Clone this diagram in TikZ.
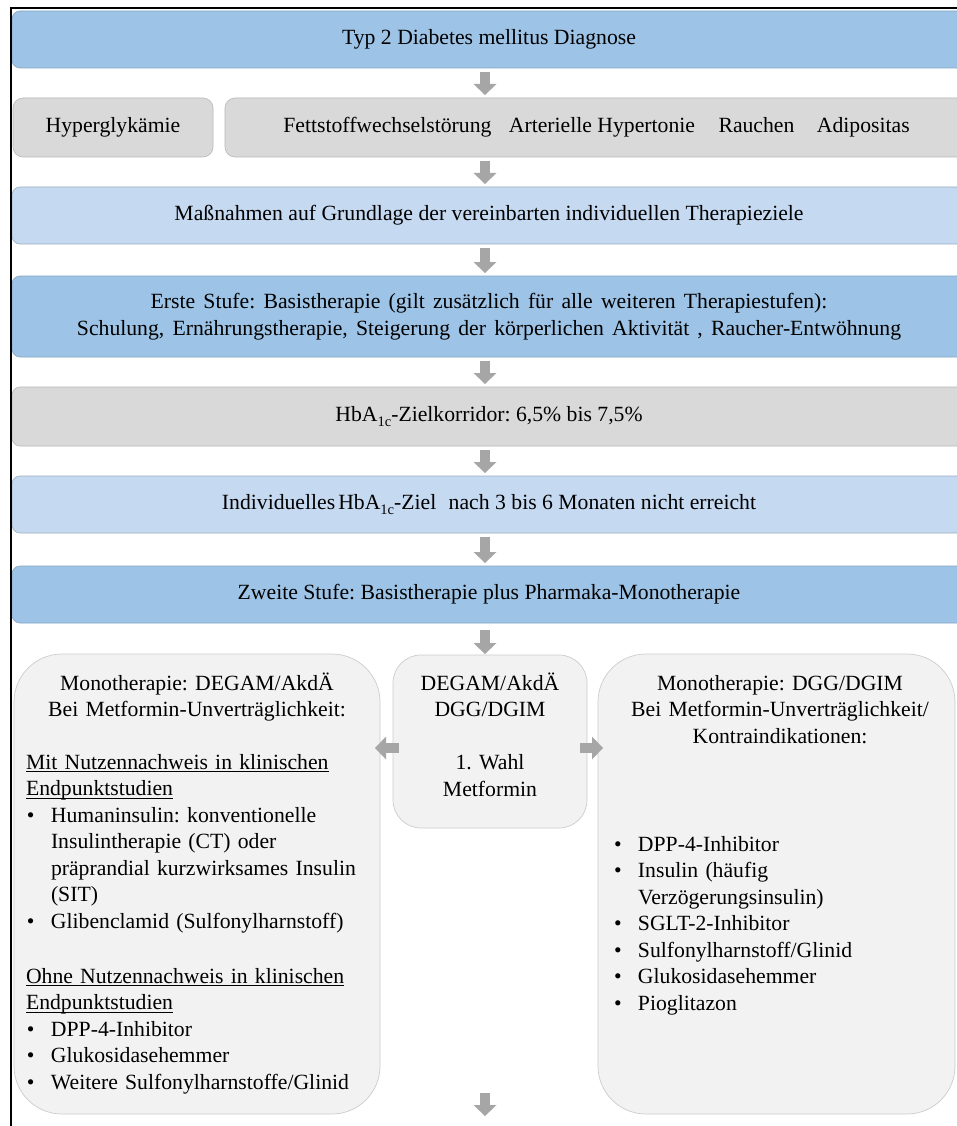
\documentclass[tikz,border=0pt]{standalone}
\usepackage{fontspec}
\setmainfont{Liberation Serif}
\newfontfamily\tnr{Liberation Serif}
\usetikzlibrary{arrows.meta}
\definecolor{dblue}{HTML}{9DC3E6}
\definecolor{lblue}{HTML}{C5D9F1}
\definecolor{mgray}{HTML}{D9D9D9}
\definecolor{lgray}{HTML}{F2F2F2}
\definecolor{agray}{HTML}{A6A6A6}
\newcommand{\fs}{\tnr\fontsize{21.7}{26.5}\selectfont\frenchspacing}
\newlength{\wsp}
\setlength{\wsp}{8.2pt}
\newcommand{\fswide}{\fs\spaceskip=\wsp}
\newcommand{\hbsub}[1]{\raisebox{-4.5pt}{\fontsize{14.5}{14}\selectfont #1}}
\newlength{\ulw}
\newcommand{\ulin}[1]{\settowidth{\ulw}{#1}\rlap{\rule[-3.2pt]{\ulw}{0.9pt}}#1}
\newcommand{\bitmhead}{\hangindent=25pt\hangafter=1\noindent\makebox[25pt][l]{\hspace{1pt}\textbullet}}
\newcommand{\bitm}{\par\bitmhead}
\tikzset{
  wbox/.style={rectangle, rounded corners=8pt, line width=0.6pt, outer sep=0pt, inner sep=0pt,
    font=\fs, align=center, text height=15pt, text depth=5pt, minimum width=954pt, minimum height=57pt},
  bluebox/.style={wbox, fill=dblue, draw=dblue!85!black},
  lightbox/.style={wbox, fill=lblue, draw=lblue!80!black},
  graybox/.style={wbox, fill=mgray, draw=mgray!85!black},
  bigbox/.style={rectangle, fill=lgray, draw=black!20, line width=0.7pt, rounded corners=48pt,
    outer sep=0pt, inner sep=0pt},
  txt/.style={font=\fs, inner sep=0pt, outer sep=0pt},
  blk/.style={draw=agray, line width=9.5pt, -{Triangle[width=23pt,length=11pt,line width=0pt]},
    shorten <=4pt, shorten >=3pt},
  blkh/.style={blk, shorten <=0pt, shorten >=0pt}
}
\begin{document}
\begin{tikzpicture}[x=1pt,y=-1pt]
\useasboundingbox (0,0) rectangle (957,1126);
\clip (0,0) rectangle (957,1126);
\fill[white] (0,0) rectangle (957,1126);

% rows
\node[bluebox] (n1) at (489,39.5) {Typ 2 Diabetes mellitus Diagnose};
\node[graybox, rounded corners=10pt, minimum width=200pt, minimum height=59pt] (hyp) at (113,127.5) {Hyperglykämie};
\node[graybox, rounded corners=10pt, minimum width=743pt, minimum height=59pt] (fett) at (596.5,127.5)
  {Fettstoffwechselstörung\hspace{12pt} Arterielle Hypertonie\hspace{18pt} Rauchen\hspace{17pt} Adipositas};
\node[lightbox] (n3) at (489,215.5) {Maßnahmen auf Grundlage der vereinbarten individuellen Therapieziele};
\node[bluebox, minimum height=81pt, text height=, text depth=, font=\fswide] (n4) at (489,316.5)
  {Erste Stufe: Basistherapie (gilt zusätzlich für alle weiteren Therapiestufen):\\
   Schulung, Ernährungstherapie, Steigerung der körperlichen Aktivität , Raucher-Entwöhnung};
\node[graybox, minimum height=59pt] (n5) at (489,416.5) {HbA\hbsub{1c}-Zielkorridor: 6,5\% bis 7,5\%};
\node[lightbox] (n6) at (489,504.5) {Individuelles\hspace{3pt}HbA\hbsub{1c}-Ziel\hspace{7pt} nach 3 bis 6 Monaten nicht erreicht};
\node[bluebox] (n7) at (489,594.5) {Zweite Stufe: Basistherapie plus Pharmaka-Monotherapie};

% big boxes
\node[bigbox, minimum width=366pt, minimum height=460pt] (lbox) at (197,884) {};
\node[bigbox, rounded corners=28pt, minimum width=194pt, minimum height=173pt] (mid) at (490,741.5) {};
\node[bigbox, minimum width=357pt, minimum height=460pt] (rbox) at (776.5,884) {};

% left box text
\node[txt, text width=360pt, align=center, anchor=base] (lhead) at (197,690)
  {Monotherapie: DEGAM/AkdÄ\\Bei Metformin-Unverträglichkeit:};
\node[txt, text width=400pt, anchor=base west] (ltxt) at (26,769) {%
  \parindent=0pt\parskip=0pt
  \ulin{Mit Nutzennachweis in klinischen}\newline\ulin{Endpunktstudien}
  \bitm Humaninsulin: konventionelle\newline Insulintherapie (CT) oder\newline präprandial kurzwirksames Insulin\newline (SIT)
  \bitm Glibenclamid (Sulfonylharnstoff)
  \par\vspace{28.5pt}\noindent
  \ulin{Ohne Nutzennachweis in klinischen}\newline\ulin{Endpunktstudien}
  \bitm DPP-4-Inhibitor
  \bitm Glukosidasehemmer
  \bitm Weitere Sulfonylharnstoffe/Glinid\par};

% middle box text
\node[txt, text width=190pt, align=center, anchor=base] (mtxt) at (490,690)
  {DEGAM/AkdÄ\\DGG/DGIM\\[26.5pt]1. Wahl\\Metformin};

% right box text
\node[txt, text width=360pt, align=center, anchor=base] (rhead) at (780,690)
  {Monotherapie: DGG/DGIM\\Bei Metformin-Unverträglichkeit/\\Kontraindikationen:};
\node[txt, text width=330pt, anchor=base west] (rtxt) at (613,851) {%
  \parindent=0pt\parskip=0pt
  \bitmhead DPP-4-Inhibitor
  \bitm Insulin (häufig\newline Verzögerungsinsulin)
  \bitm SGLT-2-Inhibitor
  \bitm Sulfonylharnstoff/Glinid
  \bitm Glukosidasehemmer
  \bitm Pioglitazon\par};

% arrows
\coordinate (ax) at (485,0);
\coordinate (ay) at (0,748);
\coordinate (bt1) at (485,1093);
\coordinate (bt2) at (485,1116);
\draw[blk] (n1.south -| ax) -- (fett.north -| ax);
\draw[blk] (fett.south -| ax) -- (n3.north -| ax);
\draw[blk] (n3.south -| ax) -- (n4.north -| ax);
\draw[blk] (n4.south -| ax) -- (n5.north -| ax);
\draw[blk] (n5.south -| ax) -- (n6.north -| ax);
\draw[blk] (n6.south -| ax) -- (n7.north -| ax);
\draw[blk, shorten <=7pt, shorten >=1pt] (n7.south -| ax) -- (mid.north -| ax);
\draw[blkh, shorten <=-6pt, shorten >=-5pt] (mid.west |- ay) -- (lbox.east |- ay);
\draw[blkh, shorten <=-7pt, shorten >=-5pt] (mid.east |- ay) -- (rbox.west |- ay);
\draw[blkh] (bt1) -- (bt2);

% frame
\draw[line width=2pt] (11,1130) -- (11,8) -- (960,8);
\end{tikzpicture}
\end{document}
